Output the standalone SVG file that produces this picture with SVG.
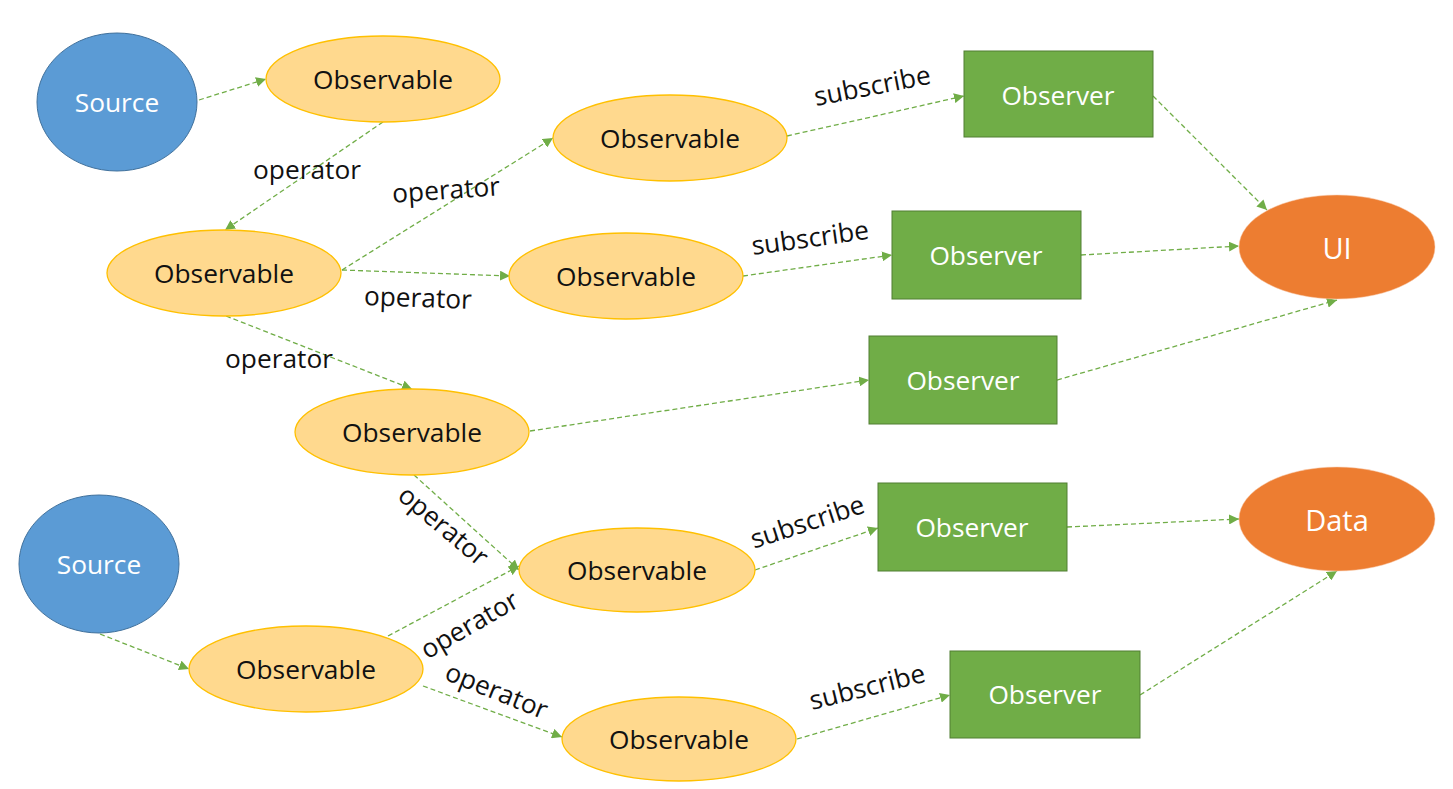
<svg xmlns="http://www.w3.org/2000/svg" width="1453" height="789" viewBox="0 0 1453 789">
<style>
.src{fill:#5B9BD5;stroke:#41719C;stroke-width:1}
.obs{fill:#FFD98E;stroke:#FFC000;stroke-width:1.3}
.obr{fill:#70AD47;stroke:#507E32;stroke-width:1}
.out{fill:#ED7D31;stroke:#F8CBAD;stroke-width:0.5}
text{font-family:"Open Sans","Noto Sans","DejaVu Sans",sans-serif;font-size:26.3px;text-anchor:middle;dominant-baseline:central}
.w{fill:#FFFFFF}
.k{fill:#111111}
.lbl{fill:#111111}
.big{font-size:29px}
.c path{fill:none;stroke:#70AD47;stroke-width:1.3;stroke-dasharray:5 3;marker-end:url(#ah)}
</style>
<defs>
<marker id="ah" viewBox="0 0 10 10" refX="10" refY="5" markerWidth="10" markerHeight="10" markerUnits="userSpaceOnUse" orient="auto">
<path d="M0,0 L10,5 L0,10 z" fill="#70AD47"/>
</marker>
</defs>
<rect width="1453" height="789" fill="#FFFFFF"/>
<g id="connectors" class="c">
<path d="M199,100 L266,79"/>
<path d="M383,122 L225,230"/>
<path d="M342,270 L553,138"/>
<path d="M342,270 L510,276"/>
<path d="M226,316 L412,389"/>
<path d="M787,136 L964,96"/>
<path d="M743,276 L892,255"/>
<path d="M530,431 L869,380"/>
<path d="M414,475 L519,570"/>
<path d="M755,570 L878,528"/>
<path d="M100,634 L189,669"/>
<path d="M388,636 L519,566"/>
<path d="M423,686 L562,737"/>
<path d="M797,739 L950,695"/>
<path d="M1153,96 L1267,210"/>
<path d="M1081,255 L1239,246"/>
<path d="M1057,380 L1337,300"/>
<path d="M1067,527 L1239,519"/>
<path d="M1140,695 L1337,571"/>
</g>
<g id="labels">
<text class="lbl" x="307" y="169">operator</text>
<text class="lbl" x="446" y="189" transform="rotate(-4 446 189)">operator</text>
<text class="lbl" x="418" y="297" transform="rotate(2 418 297)">operator</text>
<text class="lbl" x="279" y="358">operator</text>
<text class="lbl" x="872" y="85" transform="rotate(-11 872 85)">subscribe</text>
<text class="lbl" x="810" y="237" transform="rotate(-8 810 237)">subscribe</text>
<text class="lbl" x="444" y="525" transform="rotate(40 444 525)">operator</text>
<text class="lbl" x="807" y="521" transform="rotate(-18 807 521)">subscribe</text>
<text class="lbl" x="469" y="624" transform="rotate(-30 469 624)">operator</text>
<text class="lbl" x="497" y="690" transform="rotate(22 497 690)">operator</text>
<text class="lbl" x="867" y="686" transform="rotate(-14 867 686)">subscribe</text>
</g>
<g id="source1"><ellipse class="src" cx="117" cy="102" rx="80" ry="69"/><text class="w" x="117" y="102">Source</text></g>
<g id="source2"><ellipse class="src" cx="99" cy="564" rx="80" ry="69"/><text class="w" x="99" y="564">Source</text></g>
<g id="obsA"><ellipse class="obs" cx="383" cy="79" rx="117" ry="43"/><text class="k" x="383" y="79">Observable</text></g>
<g id="obsB"><ellipse class="obs" cx="224" cy="273" rx="117" ry="43"/><text class="k" x="224" y="273">Observable</text></g>
<g id="obsC"><ellipse class="obs" cx="670" cy="138" rx="117" ry="43"/><text class="k" x="670" y="138">Observable</text></g>
<g id="obsD"><ellipse class="obs" cx="626" cy="276" rx="117" ry="43"/><text class="k" x="626" y="276">Observable</text></g>
<g id="obsE"><ellipse class="obs" cx="412" cy="432" rx="117" ry="43"/><text class="k" x="412" y="432">Observable</text></g>
<g id="obsF"><ellipse class="obs" cx="637" cy="570" rx="118" ry="42"/><text class="k" x="637" y="570">Observable</text></g>
<g id="obsG"><ellipse class="obs" cx="306" cy="669" rx="117" ry="43"/><text class="k" x="306" y="669">Observable</text></g>
<g id="obsH"><ellipse class="obs" cx="679" cy="739" rx="117" ry="42"/><text class="k" x="679" y="739">Observable</text></g>
<g id="observer1"><rect class="obr" x="964" y="51" width="189" height="86"/><text class="w" x="1058" y="95">Observer</text></g>
<g id="observer2"><rect class="obr" x="892" y="211" width="189" height="88"/><text class="w" x="986" y="255">Observer</text></g>
<g id="observer3"><rect class="obr" x="869" y="336" width="188" height="88"/><text class="w" x="963" y="380">Observer</text></g>
<g id="observer4"><rect class="obr" x="878" y="483" width="189" height="88"/><text class="w" x="972" y="527">Observer</text></g>
<g id="observer5"><rect class="obr" x="950" y="651" width="190" height="87"/><text class="w" x="1045" y="694">Observer</text></g>
<g id="ui"><ellipse class="out" cx="1337" cy="247" rx="98" ry="52"/><text class="w big" x="1337" y="247">UI</text></g>
<g id="data"><ellipse class="out" cx="1337" cy="519" rx="98" ry="52"/><text class="w big" x="1337" y="519">Data</text></g>
</svg>
